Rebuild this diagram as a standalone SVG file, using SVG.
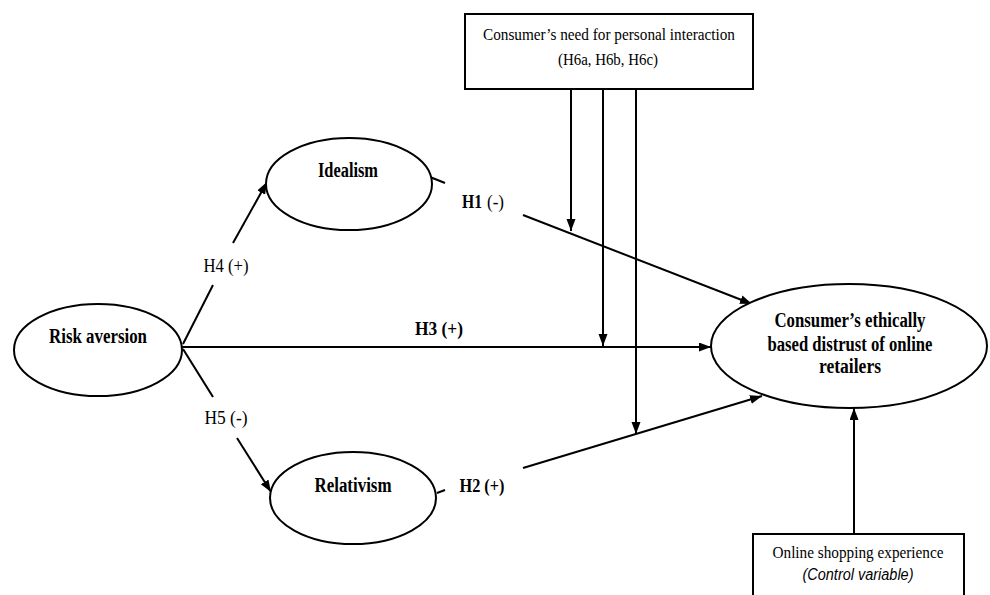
<svg xmlns="http://www.w3.org/2000/svg" width="990" height="595" viewBox="0 0 990 595">
<defs>
<marker id="arr" markerWidth="13" markerHeight="10" refX="12" refY="4.5" orient="auto" markerUnits="userSpaceOnUse">
<path d="M0,0 L12,4.5 L0,9 z" fill="#000"/>
</marker>
<style>
.shape{fill:#fff;stroke:#000;stroke-width:2}
.ln{fill:none;stroke:#000;stroke-width:2}
.arr{marker-end:url(#arr)}
.t{font-family:"Liberation Serif","Times New Roman",serif;fill:#000;font-size:20px}
.b{font-weight:bold}
.lab{font-size:19px}
.box{font-size:17.5px}
.it{font-family:"Liberation Sans",Arial,sans-serif;font-style:italic;font-size:16px;fill:#000}
</style>
</defs>
<rect width="990" height="595" fill="#fff"/>

<g id="connectors">
<line class="ln" x1="183" y1="344" x2="213" y2="285"/>
<line class="ln arr" x1="233" y1="243" x2="267" y2="182"/>
<line class="ln" x1="183" y1="349" x2="213" y2="397"/>
<line class="ln arr" x1="237" y1="438" x2="271" y2="492"/>
<line class="ln arr" x1="182" y1="347" x2="711" y2="347"/>
<line class="ln" x1="430" y1="177" x2="445" y2="183"/>
<line class="ln arr" x1="523" y1="215" x2="752" y2="304"/>
<line class="ln" x1="437" y1="493" x2="445" y2="490"/>
<line class="ln arr" x1="523" y1="468" x2="762" y2="396"/>
<line class="ln arr" x1="571" y1="89" x2="571" y2="231"/>
<line class="ln arr" x1="603" y1="89" x2="603" y2="346"/>
<line class="ln arr" x1="636" y1="89" x2="636" y2="434"/>
<line class="ln arr" x1="854" y1="534" x2="854" y2="408"/>
<text class="t lab" x="226" y="272" text-anchor="middle" textLength="45" lengthAdjust="spacingAndGlyphs">H4 (+)</text>
<text class="t lab" x="226" y="424" text-anchor="middle" textLength="43" lengthAdjust="spacingAndGlyphs">H5 (-)</text>
<text class="t lab b" x="439" y="335" text-anchor="middle" textLength="48" lengthAdjust="spacingAndGlyphs">H3 (+)</text>
<text class="t lab b" x="462" y="208" textLength="20" lengthAdjust="spacingAndGlyphs">H1</text>
<text class="t lab" x="487" y="208" textLength="17" lengthAdjust="spacingAndGlyphs">(-)</text>
<text class="t lab b" x="482" y="492" text-anchor="middle" textLength="45" lengthAdjust="spacingAndGlyphs">H2 (+)</text>
</g>

<g id="moderator">
<rect class="shape" x="465" y="14" width="288" height="75"/>
<text class="t box" x="609" y="40" text-anchor="middle" textLength="252" lengthAdjust="spacingAndGlyphs">Consumer’s need for personal interaction</text>
<text class="t box" x="608" y="65" text-anchor="middle" textLength="100" lengthAdjust="spacingAndGlyphs">(H6a, H6b, H6c)</text>
</g>

<g id="risk-aversion">
<ellipse class="shape" cx="98" cy="350" rx="84" ry="46"/>
<text class="t b" x="98" y="343" text-anchor="middle" textLength="98" lengthAdjust="spacingAndGlyphs">Risk aversion</text>
</g>

<g id="idealism">
<ellipse class="shape" cx="349" cy="184" rx="83" ry="46"/>
<text class="t b" x="348" y="177" text-anchor="middle" textLength="60" lengthAdjust="spacingAndGlyphs">Idealism</text>
</g>

<g id="relativism">
<ellipse class="shape" cx="353" cy="498" rx="83" ry="46"/>
<text class="t b" x="353" y="492" text-anchor="middle" textLength="77" lengthAdjust="spacingAndGlyphs">Relativism</text>
</g>

<g id="distrust">
<ellipse class="shape" cx="849" cy="346" rx="138" ry="62"/>
<text class="t b" x="850" y="327" text-anchor="middle" textLength="151" lengthAdjust="spacingAndGlyphs">Consumer’s ethically</text>
<text class="t b" x="850" y="351" text-anchor="middle" textLength="165" lengthAdjust="spacingAndGlyphs">based distrust of online</text>
<text class="t b" x="850" y="373" text-anchor="middle" textLength="62" lengthAdjust="spacingAndGlyphs">retailers</text>
</g>

<g id="control">
<rect class="shape" x="753" y="534" width="211" height="70"/>
<text class="t box" x="858" y="558" text-anchor="middle" textLength="171" lengthAdjust="spacingAndGlyphs">Online shopping experience</text>
<text class="it" x="858" y="580" text-anchor="middle" textLength="111" lengthAdjust="spacingAndGlyphs">(Control variable)</text>
</g>
</svg>
